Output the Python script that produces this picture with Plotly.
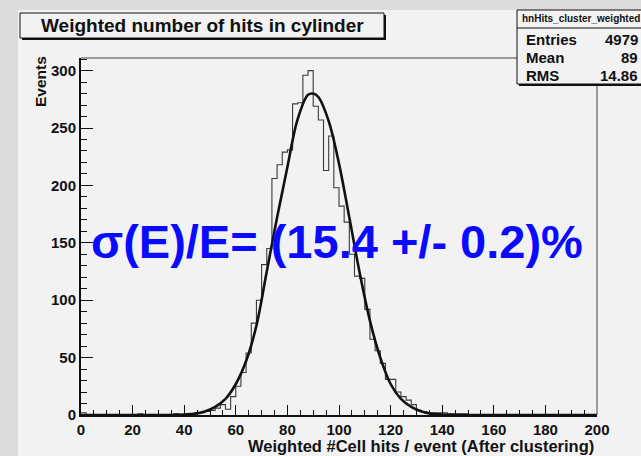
import plotly.graph_objects as go

# ── data ─────────────────────────────────────────────────────────────────
BIN_WIDTH = 2
BIN_LO = 0
bin_counts = [
    2, 0, 0, 0, 0, 0, 0, 0, 0, 0, 0, 1, 0, 0, 0, 0, 0, 0, 1, 0,          # 0-40
    0, 1, 2, 2, 3, 4, 6, 9, 5, 16,                                       # 40-60
    25, 37, 54, 80, 100, 131, 145, 206, 218, 229,                        # 60-80
    231, 271, 272, 296, 300, 269, 257, 213, 243, 198,                    # 80-100
    182, 168, 140, 121, 119, 92, 66, 56, 45, 31, 31, 20,                 # 100-124
    16, 13, 9, 4, 3, 2, 2, 2, 2, 1, 1, 1, 1,                             # 124-150
    0, 0, 0, 0, 0, 0, 0, 0, 0, 0, 0, 0, 0, 0, 0, 0, 0, 0, 0, 0, 0, 0, 0, 0, 0,
]

fit_x = [0, 30, 40, 44, 48, 52, 56, 60, 64, 68, 72, 76, 80, 84, 88, 90,
         92, 96, 100, 104, 108, 112, 116, 120, 124, 128, 132, 136, 140, 150, 200]
fit_y = [0, 0, 0.5, 1, 3, 7, 14, 27, 47, 78, 125, 172, 216, 258, 279, 280,
         277, 256, 219, 172, 124, 82, 50, 27, 14, 7, 3, 1, 0.5, 0, 0]

stats_name = "hnHits_cluster_weighted"
stats_rows = [("Entries", "4979"), ("Mean", "89"), ("RMS", "14.86")]

TITLE = "Weighted number of hits in cylinder"
XTITLE = "Weighted #Cell hits / event (After clustering)"
YTITLE = "Events"
RESULT = "σ(E)/E= (15.4 +/- 0.2)%"

# ── style ────────────────────────────────────────────────────────────────
W, H = 641, 456
L, R, T, B = 81, 44, 58, 41
OUTER = "#dcdcdc"
CANVAS = "#f2f2f2"
INK = "#111111"
BLUE = "#0a0aff"
FONT = "Liberation Sans, Arial, sans-serif"


def fx(p):  # pixel -> paper x
    return (p - L) / (W - L - R)


def fy(p):  # pixel -> paper y
    return (H - B - p) / (H - T - B)


edges = [BIN_LO + i * BIN_WIDTH for i in range(len(bin_counts) + 1)]
step_y = bin_counts + [bin_counts[-1]]

fig = go.Figure()

fig.add_trace(go.Scatter(
    x=edges, y=step_y, mode="lines", line_shape="hv",
    line=dict(color="#3a3a3a", width=1.1), hoverinfo="skip",
))
fig.add_trace(go.Scatter(
    x=fit_x, y=fit_y, mode="lines", line_shape="spline",
    line=dict(color=INK, width=2.6), hoverinfo="skip",
))

axis_common = dict(
    showgrid=False, zeroline=False, showline=True, linecolor=INK, linewidth=2,
    ticks="inside", tickcolor=INK, tickwidth=1,
    tickfont=dict(family=FONT, size=15, color=INK, weight="bold"),
)

fig.update_xaxes(
    **axis_common, range=[0, 200], tick0=0, dtick=20, ticklen=10,
    minor=dict(ticks="inside", dtick=5, ticklen=5, tickcolor=INK),
)
fig.update_yaxes(
    **axis_common, range=[0, 311], tick0=0, dtick=50, ticklen=12,
    minor=dict(ticks="inside", dtick=10, ticklen=6, tickcolor=INK),
)

shapes = [
    # canvas
    dict(type="rect", xref="paper", yref="paper", layer="below",
         x0=fx(18), x1=fx(W + 5), y0=fy(10), y1=fy(H + 5),
         fillcolor=CANVAS, line=dict(width=0)),
    # frame top / right
    dict(type="line", xref="paper", yref="paper", x0=0, x1=1, y0=1, y1=1,
         line=dict(color="#444444", width=1)),
    dict(type="line", xref="paper", yref="paper", x0=1, x1=1, y0=0, y1=1,
         line=dict(color="#444444", width=1)),
    # title box shadow + box
    dict(type="rect", xref="paper", yref="paper",
         x0=fx(22), x1=fx(386), y0=fy(15), y1=fy(40),
         fillcolor=INK, line=dict(width=0)),
    dict(type="rect", xref="paper", yref="paper",
         x0=fx(20), x1=fx(384), y0=fy(13), y1=fy(38),
         fillcolor=CANVAS, line=dict(color=INK, width=1)),
    # stats box shadow + box
    dict(type="rect", xref="paper", yref="paper",
         x0=fx(519), x1=fx(W + 5), y0=fy(12), y1=fy(86),
         fillcolor=INK, line=dict(width=0)),
    dict(type="rect", xref="paper", yref="paper",
         x0=fx(517), x1=fx(W + 5), y0=fy(10), y1=fy(84),
         fillcolor=CANVAS, line=dict(color=INK, width=1)),
    dict(type="line", xref="paper", yref="paper",
         x0=fx(517), x1=fx(W + 5), y0=fy(28), y1=fy(28),
         line=dict(color=INK, width=1)),
]

annotations = [
    dict(text=TITLE, x=fx(202), y=fy(25.5), xref="paper", yref="paper",
         showarrow=False, xanchor="center", yanchor="middle",
         font=dict(family=FONT, size=19, color=INK, weight="bold")),
    dict(text=stats_name, x=fx(520), y=fy(19), xref="paper", yref="paper",
         showarrow=False, xanchor="left", yanchor="middle",
         font=dict(family=FONT, size=10, color=INK, weight="bold")),
    dict(text=XTITLE, x=fx(596), y=fy(446), xref="paper", yref="paper",
         showarrow=False, xanchor="right", yanchor="middle",
         font=dict(family=FONT, size=16.5, color=INK, weight="bold")),
    dict(text=YTITLE, x=fx(40), y=fy(82), xref="paper", yref="paper",
         showarrow=False, xanchor="center", yanchor="middle", textangle=-90,
         font=dict(family=FONT, size=15.5, color=INK, weight="bold")),
    dict(text=RESULT, x=fx(337), y=fy(242), xref="paper", yref="paper",
         showarrow=False, xanchor="center", yanchor="middle",
         font=dict(family=FONT, size=47, color=BLUE, weight="bold")),
]

for i, (label, value) in enumerate(stats_rows):
    ypix = 40 + i * 17.5
    annotations.append(dict(
        text=label, x=fx(524), y=fy(ypix), xref="paper", yref="paper",
        showarrow=False, xanchor="left", yanchor="middle",
        font=dict(family=FONT, size=15, color=INK, weight="bold")))
    annotations.append(dict(
        text=value, x=fx(640), y=fy(ypix), xref="paper", yref="paper",
        showarrow=False, xanchor="right", yanchor="middle",
        font=dict(family=FONT, size=15, color=INK, weight="bold")))

fig.update_layout(
    width=W, height=H, autosize=False,
    paper_bgcolor=OUTER, plot_bgcolor=CANVAS,
    margin=dict(l=L, r=R, t=T, b=B),
    showlegend=False,
    shapes=shapes, annotations=annotations,
    font=dict(family=FONT, color=INK),
)

fig.write_html("out.html", config={"displayModeBar": False},
               post_script="document.body.style.margin='0';")
